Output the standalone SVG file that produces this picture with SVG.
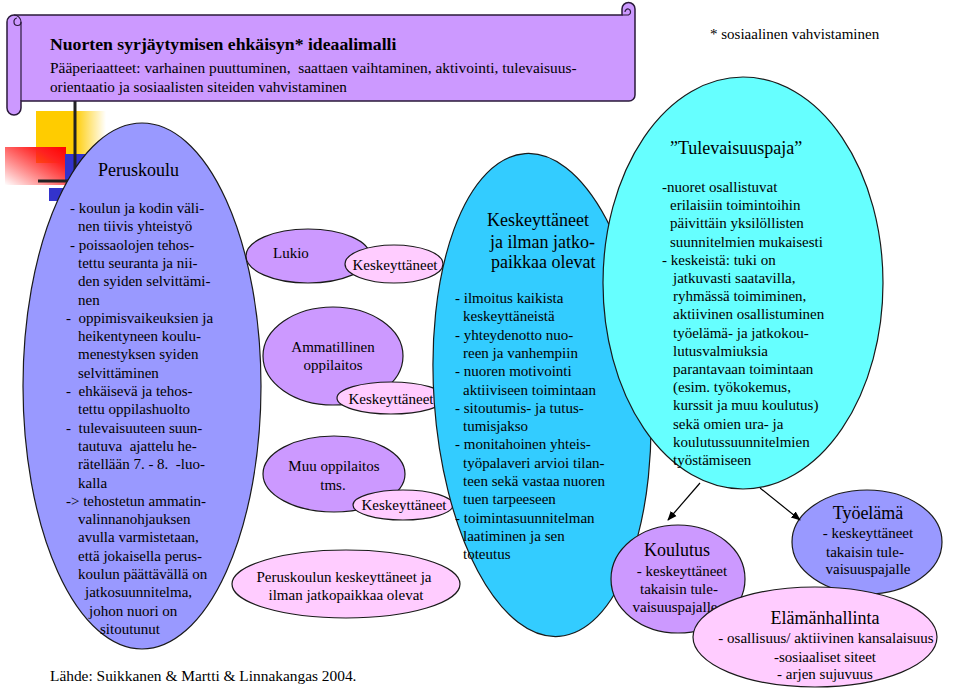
<svg xmlns="http://www.w3.org/2000/svg" width="960" height="689" viewBox="0 0 960 689">
<defs>
<style>
.t{font-family:'Liberation Serif','Times New Roman','DejaVu Serif',serif;font-size:15px;fill:#000;white-space:pre}
.h{font-size:18px}
.c{text-anchor:middle}
.e{stroke:#1a1a1a;stroke-width:1.2}
.conn{stroke:#000;stroke-width:1.2;fill:none}
</style>
<linearGradient id="gy" x1="0" y1="0" x2="1" y2="0">
<stop offset="0" stop-color="#FFCC00"/><stop offset="0.55" stop-color="#FFCC00"/><stop offset="1" stop-color="#FFCC00" stop-opacity="0"/>
</linearGradient>
<linearGradient id="gr" x1="1" y1="0" x2="0" y2="1">
<stop offset="0" stop-color="#FF0000"/><stop offset="0.25" stop-color="#FF2020"/><stop offset="1" stop-color="#FF0000" stop-opacity="0"/>
</linearGradient>
<linearGradient id="gg" x1="0" y1="0" x2="1" y2="0">
<stop offset="0" stop-color="#c8c8c8"/><stop offset="0.85" stop-color="#d0d0d0"/><stop offset="1" stop-color="#d0d0d0" stop-opacity="0"/>
</linearGradient>
<marker id="arr" viewBox="0 0 10 10" refX="9" refY="5" markerWidth="8" markerHeight="8" orient="auto">
<path d="M0,1 L10,5 L0,9 Z" fill="#000"/>
</marker>
</defs>
<rect width="960" height="689" fill="#fff"/>

<g id="decoration">
<rect x="36" y="111" width="70" height="52" fill="url(#gy)"/>
<rect x="5" y="147" width="61" height="38" fill="url(#gr)"/>
<rect x="65" y="154" width="40" height="26" fill="#3333CC"/>
<rect x="49" y="188" width="45" height="13" fill="#3333CC"/>
<line x1="75" y1="100" x2="75" y2="205" stroke="#222" stroke-width="3"/>
<line x1="38" y1="181" x2="95" y2="181" stroke="#222" stroke-width="3"/>
<line x1="95" y1="181" x2="948" y2="181" stroke="url(#gg)" stroke-width="3"/>
</g>

<g id="banner">
<path d="M14,15 H622 V9 A6.5,6.5 0 0 1 635,9 V95 A6,6 0 0 1 629,101 H21 V108 A7,7 0 0 1 7,108 V22 A7,7 0 0 1 14,15 Z" fill="#CC99FF" stroke="#2a1a3a" stroke-width="1.5"/>
<path d="M21,22 V101" fill="none" stroke="#2a1a3a" stroke-width="1.2"/>
<path d="M14,15 A7,7 0 0 1 21,22 A3.5,3.5 0 0 1 14,22 A3.5,3.5 0 0 1 17,18" fill="none" stroke="#2a1a3a" stroke-width="1.2"/>
<path d="M622,15 H628.5 A3.2,3.2 0 0 0 628.5,9 A3,3 0 0 0 625,12" fill="none" stroke="#2a1a3a" stroke-width="1.2"/>
<text class="t" x="50" y="50" font-weight="bold" style="font-size:17.7px">Nuorten syrjäytymisen ehkäisyn* ideaalimalli</text>
<text class="t" x="50" y="73" style="font-size:15.4px">Pääperiaatteet: varhainen puuttuminen,  saattaen vaihtaminen, aktivointi, tulevaisuus-</text>
<text class="t" x="50" y="92" style="font-size:15.2px">orientaatio ja sosiaalisten siteiden vahvistaminen</text>
</g>

<text class="t" x="710" y="39">* sosiaalinen vahvistaminen</text>

<g id="peruskoulu">
<ellipse class="e" cx="142" cy="386" rx="119" ry="263" fill="#9999FF"/>
<text class="t h" x="98" y="176">Peruskoulu</text>
<text class="t">
<tspan x="70" y="213">- koulun ja kodin väli-</tspan>
<tspan x="78" y="231.3">nen tiivis yhteistyö</tspan>
<tspan x="70" y="249.6">- poissaolojen tehos-</tspan>
<tspan x="78" y="267.9">tettu seuranta ja nii-</tspan>
<tspan x="78" y="286.2">den syiden selvittämi-</tspan>
<tspan x="78" y="304.5">nen</tspan>
<tspan x="66" y="322.8">-  oppimisvaikeuksien ja</tspan>
<tspan x="78" y="341.1">heikentyneen koulu-</tspan>
<tspan x="78" y="359.4">menestyksen syiden</tspan>
<tspan x="78" y="377.7">selvittäminen</tspan>
<tspan x="66" y="396">-  ehkäisevä ja tehos-</tspan>
<tspan x="78" y="414.3">tettu oppilashuolto</tspan>
<tspan x="66" y="432.6">-  tulevaisuuteen suun-</tspan>
<tspan x="78" y="450.9">tautuva  ajattelu he-</tspan>
<tspan x="78" y="469.2">rätellään 7. - 8.  -luo-</tspan>
<tspan x="78" y="487.5">kalla</tspan>
<tspan x="66" y="505.8">-&gt; tehostetun ammatin-</tspan>
<tspan x="78" y="524.1">valinnanohjauksen</tspan>
<tspan x="78" y="542.4">avulla varmistetaan,</tspan>
<tspan x="78" y="560.7">että jokaisella perus-</tspan>
<tspan x="78" y="579">koulun päättävällä on</tspan>
<tspan x="85" y="597.3">jatkosuunnitelma,</tspan>
<tspan x="89" y="615.6">johon nuori on</tspan>
<tspan x="100" y="633.9">sitoutunut</tspan>
</text>
</g>

<g id="lukio">
<ellipse class="e" cx="308" cy="256" rx="62" ry="27" fill="#CC99FF"/>
<text class="t" x="273" y="258">Lukio</text>
</g>
<g id="keskeyttaneet1">
<ellipse class="e" cx="394" cy="264" rx="49" ry="19" fill="#FFCCFF"/>
<text class="t c" x="395" y="270">Keskeyttäneet</text>
</g>

<g id="ammatillinen">
<ellipse class="e" cx="333" cy="356" rx="70" ry="49" fill="#CC99FF"/>
<text class="t c" x="333" y="352">Ammatillinen</text>
<text class="t c" x="333" y="370">oppilaitos</text>
</g>
<g id="keskeyttaneet2">
<ellipse class="e" cx="391" cy="398" rx="54" ry="16" fill="#FFCCFF"/>
<text class="t c" x="391" y="404">Keskeyttäneet</text>
</g>

<g id="muu">
<ellipse class="e" cx="334" cy="474" rx="71" ry="38" fill="#CC99FF"/>
<text class="t c" x="334" y="471">Muu oppilaitos</text>
<text class="t c" x="333" y="490">tms.</text>
</g>
<g id="keskeyttaneet3">
<ellipse class="e" cx="403" cy="505" rx="50" ry="15" fill="#FFCCFF"/>
<text class="t c" x="404" y="510">Keskeyttäneet</text>
</g>

<g id="keskeyttaneet-ilman">
<ellipse class="e" cx="542" cy="395" rx="108" ry="242" fill="#33CCFF" transform="rotate(-4 542 395)"/>
<text class="t h" x="487" y="226">Keskeyttäneet</text>
<text class="t h" x="490" y="248">ja ilman jatko-</text>
<text class="t h" x="491" y="268">paikkaa olevat</text>
<text class="t">
<tspan x="455" y="303">- ilmoitus kaikista</tspan>
<tspan x="463" y="321.3">keskeyttäneistä</tspan>
<tspan x="455" y="339.6">- yhteydenotto nuo-</tspan>
<tspan x="463" y="357.9">reen ja vanhempiin</tspan>
<tspan x="455" y="376.2">- nuoren motivointi</tspan>
<tspan x="463" y="394.5">aktiiviseen toimintaan</tspan>
<tspan x="455" y="412.8">- sitoutumis- ja tutus-</tspan>
<tspan x="463" y="431.1">tumisjakso</tspan>
<tspan x="455" y="449.4">- monitahoinen yhteis-</tspan>
<tspan x="463" y="467.7">työpalaveri arvioi tilan-</tspan>
<tspan x="463" y="486">teen sekä vastaa nuoren</tspan>
<tspan x="463" y="504.3">tuen tarpeeseen</tspan>
<tspan x="455" y="522.6">- toimintasuunnitelman</tspan>
<tspan x="463" y="540.9">laatiminen ja sen</tspan>
<tspan x="463" y="559.2">toteutus</tspan>
</text>
</g>

<g id="peruskoulun-keskeyttaneet">
<ellipse class="e" cx="346" cy="584" rx="114" ry="34" fill="#FFCCFF"/>
<text class="t c" x="344" y="582">Peruskoulun keskeyttäneet ja</text>
<text class="t c" x="346" y="600">ilman jatkopaikkaa olevat</text>
</g>

<g id="tulevaisuuspaja">
<ellipse class="e" cx="743" cy="283" rx="140" ry="206" fill="#66FFFF"/>
<text class="t h" x="670" y="154">”Tulevaisuuspaja”</text>
<text class="t">
<tspan x="662" y="192">-nuoret osallistuvat</tspan>
<tspan x="670" y="210.2">erilaisiin toimintoihin</tspan>
<tspan x="670" y="228.4">päivittäin yksilöllisten</tspan>
<tspan x="670" y="246.6">suunnitelmien mukaisesti</tspan>
<tspan x="662" y="264.8">- keskeistä: tuki on</tspan>
<tspan x="673" y="283">jatkuvasti saatavilla,</tspan>
<tspan x="673" y="301.2">ryhmässä toimiminen,</tspan>
<tspan x="673" y="319.4">aktiivinen osallistuminen</tspan>
<tspan x="673" y="337.6">työelämä- ja jatkokou-</tspan>
<tspan x="673" y="355.8">lutusvalmiuksia</tspan>
<tspan x="673" y="374">parantavaan toimintaan</tspan>
<tspan x="673" y="392.2">(esim. työkokemus,</tspan>
<tspan x="673" y="410.4">kurssit ja muu koulutus)</tspan>
<tspan x="673" y="428.6">sekä omien ura- ja</tspan>
<tspan x="673" y="446.8">koulutussuunnitelmien</tspan>
<tspan x="673" y="465">työstämiseen</tspan>
</text>
</g>

<g id="koulutus">
<ellipse class="e" cx="678" cy="579" rx="67" ry="54" fill="#CC99FF"/>
<text class="t h c" x="677" y="556">Koulutus</text>
<text class="t c" x="682" y="576">- keskeyttäneet</text>
<text class="t c" x="679" y="594">takaisin tule-</text>
<text class="t c" x="675" y="612">vaisuuspajalle</text>
</g>

<g id="tyoelama">
<ellipse class="e" cx="867" cy="542" rx="75" ry="52" fill="#9999FF"/>
<text class="t h c" x="868" y="519">Työelämä</text>
<text class="t c" x="868" y="538">- keskeyttäneet</text>
<text class="t c" x="865" y="557">takaisin tule-</text>
<text class="t c" x="868" y="574">vaisuuspajalle</text>
</g>

<g id="elamanhallinta">
<ellipse class="e" cx="815" cy="637" rx="122" ry="50" fill="#FFCCFF"/>
<text class="t h c" x="825" y="624">Elämänhallinta</text>
<text class="t c" x="826" y="643">- osallisuus/ aktiivinen kansalaisuus</text>
<text class="t c" x="825" y="662">-sosiaaliset siteet</text>
<text class="t c" x="825" y="679">- arjen sujuvuus</text>
</g>

<g id="connectors">
<line class="conn" x1="700" y1="483" x2="668" y2="520" marker-end="url(#arr)"/>
<line class="conn" x1="760" y1="488" x2="800" y2="520" marker-end="url(#arr)"/>
</g>

<text class="t" x="50" y="681" style="font-size:15.4px">Lähde: Suikkanen &amp; Martti &amp; Linnakangas 2004.</text>
</svg>
